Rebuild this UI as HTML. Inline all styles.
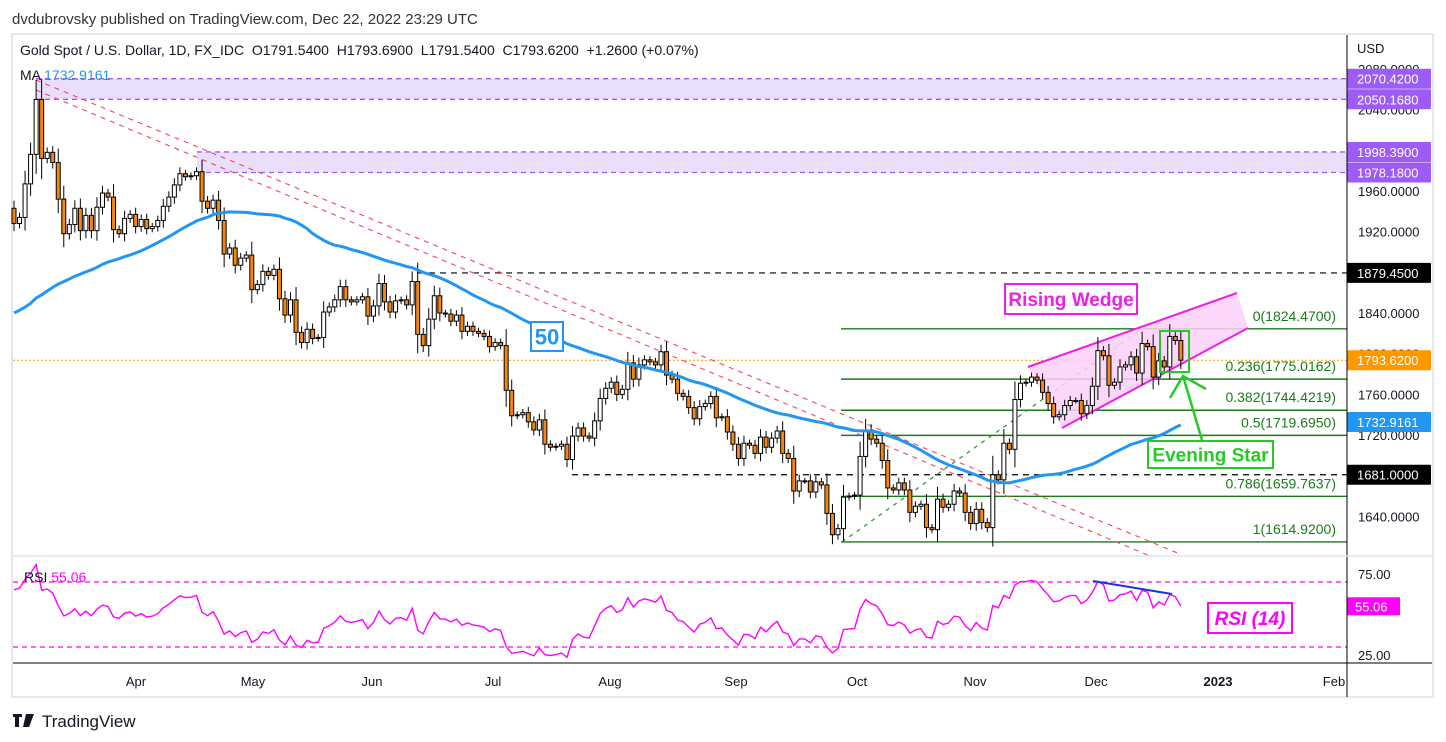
<!DOCTYPE html>
<html><head><meta charset="utf-8">
<style>
html,body{margin:0;padding:0;background:#fff;}
svg{display:block;font-family:"Liberation Sans",sans-serif;}
</style></head>
<body>
<svg id="chart" width="1446" height="742" viewBox="0 0 1446 742" xmlns="http://www.w3.org/2000/svg">
<text x="12" y="24" font-size="15" fill="#333">dvdubrovsky published on TradingView.com, Dec 22, 2022 23:29 UTC</text>
<rect x="12" y="34" width="1421" height="663" fill="#fff" stroke="#e6e7ee" stroke-width="2"/>
<g id="bg"></g>
<g id="ann"></g>
<g id="candles"></g>
<g id="over"></g>
<g id="axis"></g>
<line x1="1347" y1="35" x2="1347" y2="697" stroke="#000" stroke-width="1"/>
<line x1="13" y1="556" x2="1432" y2="556" stroke="#e0e3eb" stroke-width="1.5"/>
<line x1="13" y1="663" x2="1432" y2="663" stroke="#000" stroke-width="1"/>
<text x="20" y="55" font-size="14" fill="#131722" xml:space="preserve">Gold Spot / U.S. Dollar, 1D, FX_IDC  O1791.5400  H1793.6900  L1791.5400  C1793.6200  +1.2600 (+0.07%)</text>
<text x="20" y="80" font-size="14" fill="#131722">MA <tspan fill="#2196f3">1732.9161</tspan></text>
<text x="24" y="582" font-size="14" fill="#131722">RSI <tspan fill="#ff00ff">55.06</tspan></text>
<g>
<path d="M13 714h9v3h-3v10h-4v-10h-2z M23 714h4l-1 0 M26 714h3l-3 13h-3z M29 714h5l-5 13h-3z" fill="#131722"/>
<text x="42" y="727" font-size="17" fill="#131722">TradingView</text>
</g>
</svg>
<script>
// ---- data ----
const prefixCloses=[1790,1785,1792,1805,1811,1806,1795,1829,1814,1810,1789,1797,1800,1802,1820,1826,1822,1818,1813,1842,1840,1836,1832,1852,1829,1820,1797,1788,1797,1801,1807,1805,1808,1820,1828,1835,1851,1858,1826,1856,1871,1869,1898,1899,1906,1898,1907,1903,1890,1909,1900,1943];
const closes=[
1928,1934,1967,1996,2050,1992,1998,1988,1952,1918,1927,1943,1921,1936,1921,1944,1958,1954,1922,1918,1933,1937,
1925,1932,1923,1925,1931,1945,1954,1966,1977,1974,1975,1979,1950,1943,1951,1931,1898,1904,1887,1894,1897,
1863,1868,1881,1877,1883,1854,1838,1853,1821,1811,1824,1815,1816,1841,1846,1853,1866,1853,1851,1853,1856,1837,
1847,1869,1851,1841,1852,1853,1848,1871,1819,1808,1834,1857,1840,1839,1832,1838,1822,1827,1822,1820,1817,1807,
1811,1808,1764,1739,1740,1742,1733,1725,1735,1711,1708,1709,1711,1696,1719,1727,1719,1717,1734,1756,1766,
1772,1760,1765,1791,1775,1789,1794,1792,1789,1802,1779,1775,1761,1758,1747,1736,1748,1751,1758,1737,1738,1723,1711,
1697,1712,1710,1702,1718,1708,1717,1724,1702,1697,1665,1675,1675,1664,1674,1671,1643,1622,1628,1659,1660,1661,
1699,1725,1716,1712,1695,1668,1666,1673,1666,1644,1650,1652,1629,1627,1657,1649,1652,1665,1663,1644,1633,
1647,1634,1629,1681,1676,1712,1706,1755,1771,1772,1777,1774,1762,1751,1738,1740,1749,1754,1754,1741,1749,1768,
1803,1798,1769,1772,1787,1789,1797,1781,1810,1807,1777,1793,1787,1817,1813,1793.62];
const priceTicks=[2080,2040,1960,1920,1840,1800,1760,1720,1640];
const fibRatios=["0","0.236","0.382","0.5","0.786","1"];
const fibLevels=[1824.47,1775.0162,1744.4219,1719.695,1659.7637,1614.92];
const bandLevels=[[2070.42,2050.168],[1998.39,1978.18]];
const monthLabels=["Apr","May","Jun","Jul","Aug","Sep","Oct","Nov","Dec","2023","Feb"];
const monthX=[136,253,372,493,610,736,857,975,1096,1218,1334];
const rsiTicks=[75,25];
const rsiBands=[70,30];

// ---- scales ----
const X0=14,STEP=5.53;
const xi=i=>X0+i*STEP;
const yp=p=>78.7+(2070.42-p)*1.017;
const yr=r=>582+(70-r)*1.625;
const NS="http://www.w3.org/2000/svg";
function mk(tag,attrs,parent){const e=document.createElementNS(NS,tag);for(const k in attrs)e.setAttribute(k,attrs[k]);parent.appendChild(e);return e;}
const bg=document.getElementById('bg'),ann=document.getElementById('ann'),cg=document.getElementById('candles'),ov=document.getElementById('over'),ax=document.getElementById('axis');

// bands
const bandStart=[36,197];
bandLevels.forEach((b,k)=>{
  const r=mk('rect',{x:bandStart[k],y:yp(b[0]),width:1347-bandStart[k],height:yp(b[1])-yp(b[0]),fill:'#e9dffc'},bg);
  
  
  b.forEach(v=>{const l=mk('line',{x1:bandStart[k],x2:1347,y1:yp(v),y2:yp(v),stroke:'#9c5cf5','stroke-dasharray':'5 4','stroke-width':1.3},bg);
    
    });
});
[[1879.45,418],[1681,572]].forEach(h=>{const l=mk('line',{x1:h[1],x2:1347,y1:yp(h[0]),y2:yp(h[0]),stroke:'#000','stroke-dasharray':'6 5','stroke-width':1.2},bg);
  
  });
{const l=mk('line',{x1:13,x2:1347,y1:yp(1793.62),y2:yp(1793.62),stroke:'#ff9800','stroke-dasharray':'2 2','stroke-width':1},bg);
 
 }
fibLevels.forEach((v,k)=>{
  const l=mk('line',{x1:841,x2:1347,y1:yp(v),y2:yp(v),stroke:'#1b7a1b','stroke-width':1.4},bg);
  
  
  const t=mk('text',{x:1336,y:yp(v)-8,'font-size':14,fill:'#1b7a1b','text-anchor':'end'},ax);
  t.textContent=fibRatios[k]+'('+v.toFixed(4)+')';
  
  
});
{const l=mk('line',{x1:842,y1:yp(1614.92),x2:1142,y2:yp(1824.47),stroke:'#2e8b2e','stroke-dasharray':'4 5','stroke-width':1.2},bg);
 
 }
[[36,80,1180,554],[36,90,1150,556]].forEach(s=>{const l=mk('line',{x1:s[0],y1:s[1],x2:s[2],y2:s[3],stroke:'#f2475f','stroke-dasharray':'5 5','stroke-width':1.1},bg);
  
  });
{const p=mk('polygon',{points:'1028,367 1237,293 1248,328 1062,428',fill:'#fcd0f8','fill-opacity':0.85},ann);
 
 
 [[1028,367,1237,293],[1062,428,1248,328]].forEach(s=>{const l=mk('line',{x1:s[0],y1:s[1],x2:s[2],y2:s[3],stroke:'#ee1ee6','stroke-width':2},ann);
  
  });}

// candles
const allC=prefixCloses.concat(closes);
const P=prefixCloses.length;
closes.forEach((c,i)=>{
  const o=allC[P+i-1];
  const w=3+0.3*Math.abs(c-o);
  const hi=Math.max(o,c)+w, lo=Math.min(o,c)-w;
  const x=xi(i);
  const g=mk('g',{},cg);
  
  
  mk('line',{x1:x,x2:x,y1:yp(hi),y2:yp(lo),stroke:'#000','stroke-width':1},g);
  const top=yp(Math.max(o,c)),h=Math.max(1,yp(Math.min(o,c))-top);
  mk('rect',{x:x-2,y:top,width:4,height:h,fill:c>=o?'#fff':'#f7860f',stroke:'#000','stroke-width':1},g);
});

// MA 50
let maPts=[];
for(let i=0;i<closes.length;i++){let s=0;for(let k=P+i-49;k<=P+i;k++)s+=allC[k];maPts.push(xi(i).toFixed(1)+','+yp(s/50).toFixed(1));}
{const pl=mk('polyline',{points:maPts.join(' '),fill:'none',stroke:'#2196f3','stroke-width':3},ov);
 
 }

// RSI 14
let ag=0,al=0;const rsi=[];
for(let k=1;k<allC.length;k++){const d=allC[k]-allC[k-1];const g=Math.max(d,0),l=Math.max(-d,0);
  if(k<=14){ag+=g/14;al+=l/14;}else{ag=(ag*13+g)/14;al=(al*13+l)/14;}
  if(k>=P)rsi.push(100-100/(1+ag/(al||1e-9)));}
rsiBands.forEach(r=>{const l=mk('line',{x1:13,x2:1347,y1:yr(r),y2:yr(r),stroke:'#ff00ff','stroke-dasharray':'5 4','stroke-width':1.2},bg);
  
  });
rsiTicks.forEach(r=>{const t=mk('text',{x:1358,y:yr(r)+5,'font-size':13,fill:'#131722'},ax);t.textContent=r.toFixed(2);
  
  });
{const pl=mk('polyline',{points:rsi.map((r,i)=>xi(i).toFixed(1)+','+Math.max(557,yr(r)).toFixed(1)).join(' '),fill:'none',stroke:'#ff00ff','stroke-width':1.4},ov);
 
 }
{const l=mk('line',{x1:1093,y1:581,x2:1172,y2:594,stroke:'#1a2fe8','stroke-width':2},ov);
 
 }

function box(name,x,y,w,h,color,txt,fs,italic){
  const g=mk('g',{},ov);
  
  
  mk('rect',{x:x,y:y,width:w,height:h,fill:'#fff',stroke:color,'stroke-width':2},g);
  const t=mk('text',{x:x+w/2,y:y+h/2+fs*0.36,'font-size':fs,'font-weight':'bold',fill:color,'text-anchor':'middle','font-style':italic?'italic':'normal'},g);
  t.textContent=txt;
}
box('rising-wedge-label',1005,284,132,30,'#ee1ee6','Rising Wedge',19,false);
box('ma-50-label',531,322,32,29,'#2196f3','50',22,false);
box('evening-star-label',1148,441,125,27,'#22cc22','Evening Star',19,false);
box('rsi-14-label',1208,603,84,30,'#ff00ff','RSI (14)',19,true);
{const r=mk('rect',{x:1160,y:331,width:29,height:41,fill:'none',stroke:'#22cc22','stroke-width':2},ov);
 
 
 const p=mk('path',{d:'M1202 440 L1183 376 M1170 398 L1183 376 L1206 389',fill:'none',stroke:'#22cc22','stroke-width':2.5},ov);
 
 }

{const t=mk('text',{x:1357,y:53,'font-size':13,fill:'#131722'},ax);t.textContent='USD';
 
 }
priceTicks.forEach(v=>{const t=mk('text',{x:1358,y:yp(v)+5,'font-size':13,fill:'#131722'},ax);t.textContent=v.toFixed(4);
  
  });
const tags=[[2070.42,'#9c5cf5','2070.4200'],[2050.168,'#9c5cf5','2050.1680'],[1998.39,'#9c5cf5','1998.3900'],[1978.18,'#9c5cf5','1978.1800'],[1879.45,'#000','1879.4500'],[1793.62,'#ff9800','1793.6200'],[1732.9161,'#2196f3','1732.9161'],[1681,'#000','1681.0000']];
tags.forEach(tg=>{const g=mk('g',{},ax);
  
  
  const y=yp(tg[0]);
  mk('rect',{x:1347,y:y-10,width:84,height:20,fill:tg[1],rx:1},g);
  const t=mk('text',{x:1357,y:y+5,'font-size':13,fill:'#fff'},g);t.textContent=tg[2];});
{const g=mk('g',{},ax);
 
 
 const y=yr(55.06);
 mk('rect',{x:1347,y:y-9,width:53,height:18,fill:'#ff00ff'},g);
 const t=mk('text',{x:1355,y:y+5,'font-size':13,fill:'#fff'},g);t.textContent='55.06';}
monthLabels.forEach((m,k)=>{const t=mk('text',{x:monthX[k],y:686,'font-size':13,fill:'#131722','text-anchor':'middle','font-weight':m==='2023'?'bold':'normal'},ax);t.textContent=m;
  
  });
{const r=mk('rect',{x:1348,y:664,width:84,height:32,fill:'#fff'},ax);
 
 }
</script>
</body></html>
